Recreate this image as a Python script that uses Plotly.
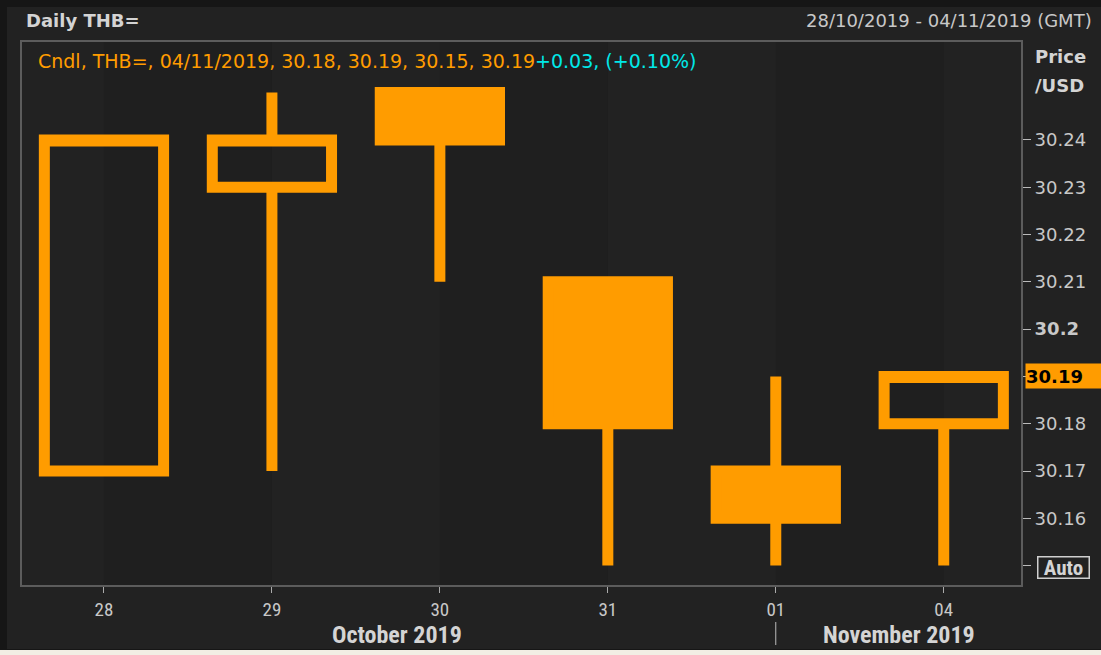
import plotly.graph_objects as go

# ---- data ----
day_labels = ["28", "29", "30", "31", "01", "04"]
opens = [30.17, 30.23, 30.25, 30.21, 30.17, 30.18]
highs = [30.24, 30.25, 30.25, 30.21, 30.19, 30.19]
lows = [30.17, 30.17, 30.21, 30.15, 30.15, 30.15]
closes = [30.24, 30.24, 30.24, 30.18, 30.16, 30.19]
month_labels = ["October 2019", "November 2019"]
y_tickvals = [30.15, 30.16, 30.17, 30.18, 30.19, 30.20, 30.21, 30.22, 30.23, 30.24]
y_ticktext = ["", "30.16", "30.17", "30.18", "", "<b>30.2</b>", "30.21", "30.22", "30.23", "30.24"]
last_price = 30.19

ORANGE = "#ff9c00"
CYAN = "#00e8e8"
TXT = "#c8c8c8"
FONT = "DejaVu Sans, Verdana, sans-serif"
NARROW = "Liberation Sans Narrow, Roboto Condensed, Roboto, sans-serif"

W, H = 1101, 655
L, R, T, B = 22, 1021, 42, 585


def px(x):
    return (x - L) / (R - L)


def py(y):
    return (B - y) / (B - T)


fig = go.Figure()
fig.add_trace(go.Candlestick(
    x=day_labels, open=opens, high=highs, low=lows, close=closes,
    increasing=dict(line=dict(color=ORANGE, width=11), fillcolor="rgba(0,0,0,0)"),
    decreasing=dict(line=dict(color=ORANGE, width=11), fillcolor=ORANGE),
    whiskerwidth=0, showlegend=False, hoverinfo="skip",
))

shapes = []
# outer frame
shapes.append(dict(type="rect", xref="paper", yref="paper", x0=px(7), x1=px(1101), y0=py(649), y1=py(7),
                   fillcolor="#222222", line=dict(width=0), layer="below"))
shapes.append(dict(type="rect", xref="paper", yref="paper", x0=px(0), x1=px(1101), y0=py(655), y1=py(650),
                   fillcolor="#f2eee4", line=dict(width=0), layer="below"))
# alternating bands
for i in [0, 2, 4]:
    shapes.append(dict(type="rect", xref="x", yref="paper", x0=i, x1=i + 1, y0=0, y1=1,
                       fillcolor="#1f1f1f", line=dict(width=0), layer="below"))
# month separator
shapes.append(dict(type="line", xref="x", yref="paper", x0=4, x1=4, y0=py(645), y1=py(622),
                   line=dict(color="#bbbbbb", width=1)))

annotations = [
    dict(text="<b>Daily THB=</b>", xref="paper", yref="paper", x=px(24), y=py(21),
         xanchor="left", yanchor="middle", showarrow=False, font=dict(family=FONT, size=18, color="#d4d4d4")),
    dict(text="28/10/2019 - 04/11/2019 (GMT)", xref="paper", yref="paper", x=px(1094), y=py(21),
         xanchor="right", yanchor="middle", showarrow=False, font=dict(family=FONT, size=18, color=TXT)),
    dict(text=("<span style='color:%s'>Cndl, THB=, 04/11/2019, %.2f, %.2f, %.2f, %.2f</span>"
               "<span style='color:%s'>+0.03, (+0.10%%)</span>")
         % (ORANGE, opens[-1], highs[-1], lows[-1], closes[-1], CYAN),
         xref="paper", yref="paper", x=px(36), y=py(61),
         xanchor="left", yanchor="middle", showarrow=False, font=dict(family=FONT, size=19, color=ORANGE)),
    dict(text="<b>Price</b>", xref="paper", yref="paper", x=px(1033), y=py(56),
         xanchor="left", yanchor="middle", showarrow=False, font=dict(family=FONT, size=18, color="#d4d4d4")),
    dict(text="<b>/USD</b>", xref="paper", yref="paper", x=px(1033), y=py(85),
         xanchor="left", yanchor="middle", showarrow=False, font=dict(family=FONT, size=18, color="#d4d4d4")),
    dict(text="<b>%.2f</b>" % last_price, xref="paper", yref="y", x=px(1025), y=last_price,
         xanchor="left", yanchor="middle", showarrow=False, align="left",
         bgcolor=ORANGE, width=76, height=24, borderpad=0,
         font=dict(family=FONT, size=18, color="#000000")),
    dict(text="<b>Auto</b>", xref="paper", yref="y", x=px(1037), y=30.1495,
         xanchor="left", yanchor="middle", showarrow=False,
         bordercolor="#cfcfcf", borderwidth=1.5, borderpad=0, width=50, height=20,
         font=dict(family=NARROW, size=21, color="#d4d4d4")),
    dict(text="<b>%s</b>" % month_labels[0], xref="paper", yref="paper", x=px(397), y=py(635),
         xanchor="center", yanchor="middle", showarrow=False, font=dict(family=NARROW, size=24, color="#d4d4d4")),
    dict(text="<b>%s</b>" % month_labels[1], xref="paper", yref="paper", x=px(899), y=py(635),
         xanchor="center", yanchor="middle", showarrow=False, font=dict(family=NARROW, size=24, color="#d4d4d4")),
]

fig.update_layout(
    width=W, height=H,
    margin=dict(l=L, r=W - R, t=T, b=H - B, pad=0),
    paper_bgcolor="#161616",
    plot_bgcolor="#242424",
    boxgap=0.29, boxgroupgap=0,
    shapes=shapes,
    annotations=annotations,
    xaxis=dict(type="category", range=[-0.488, 5.46], rangeslider=dict(visible=False),
               showgrid=False, zeroline=False, showline=True, mirror=True, linecolor="#5c5c5c", linewidth=2,
               ticks="outside", ticklen=6, tickcolor="#aaaaaa", tickwidth=1,
               tickfont=dict(family=NARROW, size=19, color=TXT)),
    yaxis=dict(side="right", range=[30.1459, 30.2607], tickvals=y_tickvals, ticktext=y_ticktext,
               showgrid=False, zeroline=False, showline=True, mirror=True, linecolor="#5c5c5c", linewidth=2,
               ticks="outside", ticklen=8, tickcolor="#bbbbbb", tickwidth=1,
               tickfont=dict(family=FONT, size=18, color=TXT)),
)

fig.write_html("out.html", config={"displayModeBar": False},
               post_script="document.body.style.margin='0px';")
